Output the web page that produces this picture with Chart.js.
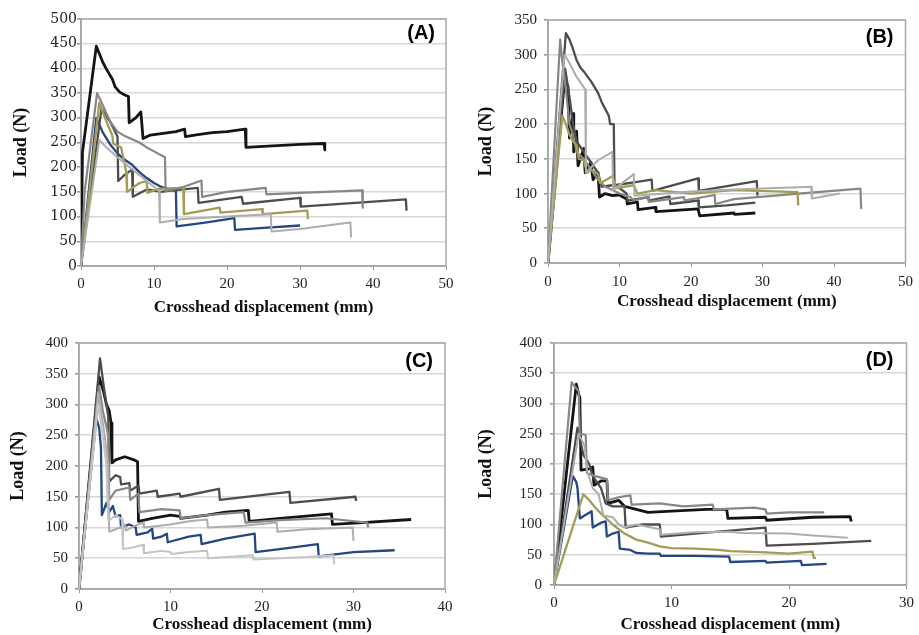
<!DOCTYPE html>
<html>
<head>
<meta charset="utf-8">
<script src="https://cdn.jsdelivr.net/npm/chart.js@4.4.1/dist/chart.umd.min.js"></script>
<style>
  body { margin: 0; background: #fff; }
  .panel { position: absolute; }
</style>
</head>
<body>
<div class="panel" style="left:0;top:0"><canvas id="chartA" width="460" height="320"></canvas></div>
<div class="panel" style="left:460px;top:0"><canvas id="chartB" width="459" height="320"></canvas></div>
<div class="panel" style="left:0;top:320px"><canvas id="chartC" width="460" height="315"></canvas></div>
<div class="panel" style="left:460px;top:320px"><canvas id="chartD" width="459" height="315"></canvas></div>
<script>
// [displacement mm, load N]

// panel A
const aBlack = [[0,0],[0.2,230],[2.1,445],[2.5,430],[3,412],[3.5,398],[4.3,378],[4.7,362],[5.3,352],[6,346],[6.5,343],[6.6,290],[7.5,300],[8.2,312],[8.5,258],[9.5,265],[11,268],[13,272],[14.2,277],[14.3,262],[16,266],[18,270],[20,272],[22.5,277],[22.6,240],[25,242],[30,246],[33.3,248],[33.4,235]];
const aMidGray = [[0,0],[0.5,150],[2.2,350],[3,325],[4,292],[5,272],[6,263],[8,250],[9,240],[10,232],[11.5,220],[11.6,152],[14,160],[16.5,173],[16.6,140],[20,150],[25.3,158],[25.4,145],[30,148],[38.5,153],[38.6,118]];
const aLightGray = [[0,0],[2.5,255],[3.5,240],[5,220],[7,196],[9,172],[10.7,152],[10.8,88],[14,95],[20,100],[26,105],[26.1,70],[30,75],[36.9,88],[37,58]];
const aDarkGray = [[0,0],[2.8,318],[4,292],[5,262],[5.1,172],[6,185],[7,195],[7.1,140],[9,155],[11,150],[12,152],[16,158],[16.1,128],[22,140],[22.2,126],[30,138],[30.1,120],[44.5,135],[44.6,112]];
const aOlive = [[0,0],[2.5,330],[3.5,292],[4.3,264],[4.4,248],[5.5,240],[6.2,190],[6.3,150],[8,168],[9,172],[9.1,148],[10.5,156],[14,158],[14.1,105],[19,118],[19.1,108],[24.8,115],[24.9,105],[31,112],[31.1,95]];
const aBlue = [[0,0],[2.1,300],[3,270],[4,246],[5,228],[6,215],[7,205],[8,190],[9,178],[10,168],[11,160],[13,152],[13.1,80],[17,88],[21,97],[21.1,73],[25,77],[30,82]];

// panel B
const bBlack = [[0,0],[2.3,262],[2.8,255],[3,180],[3.5,215],[3.6,160],[4,190],[4.2,140],[5,165],[5.2,130],[6,145],[6.3,120],[7,130],[7.2,95],[8,100],[9,97],[10,98],[11,92],[11.1,85],[12.5,88],[12.6,77],[15,80],[15.1,74],[21,78],[21.2,68],[26,72],[26.1,70],[29,72]];
const bDarkGray = [[0,0],[2.5,331],[3,322],[3.5,308],[4,292],[4.5,282],[5,276],[6,262],[7,245],[7.5,232],[8,222],[8.5,212],[8.7,200],[9.2,200],[9.3,112],[12,116],[14.5,120],[14.6,104],[21,122],[21.1,104],[29.2,118],[29.3,97]];
const bDarkGray2 = [[0,0],[2.4,280],[3,240],[3.5,200],[4,175],[5,160],[6,145],[7,130],[7.5,110],[9,112],[10,108],[11,100],[11.1,90],[14,95],[14.1,90],[17,96],[17.1,85],[21,90],[21.1,80],[25,83],[29,87]];
const bMidGray = [[0,0],[1.7,322],[2,290],[2.5,250],[3,200],[3.5,185],[4,160],[5,150],[6,135],[7,120],[8,110],[9,105],[10,100],[11.5,95],[12,90],[14,95],[14.1,88],[19,95],[19.1,90],[23.3,98],[23.4,85],[26,92],[35,100],[43.7,107],[43.8,78]];
const bLightGray = [[0,0],[2.3,300],[3,288],[4,268],[5.2,250],[5.3,130],[7,148],[9,160],[9.1,105],[12,128],[12.1,97],[20,103],[26,106],[36.8,110],[36.9,93],[40.8,100]];
const bOlive = [[0,0],[2,212],[2.5,200],[3,185],[3.5,175],[4,170],[4.3,150],[5,148],[5.5,130],[6,135],[7,128],[7.3,115],[9,125],[9.5,108],[12,112],[12.5,100],[15,105],[20,100],[26,105],[34.9,102],[35,83]];

// panel C
const cBlack = [[0,0],[2.2,345],[2.7,320],[3,300],[3.3,290],[3.5,270],[3.6,205],[4,210],[5,215],[6,210],[6.4,207],[6.5,110],[8,115],[10,120],[11,118],[11.1,115],[14,120],[16,125],[18.5,128],[18.6,110],[22,115],[27.6,122],[27.7,105],[31,108],[36.3,113]];
const cDarkGray = [[0,0],[2.3,375],[2.7,330],[3.2,280],[3.3,175],[4,185],[4.5,182],[4.6,170],[5.5,172],[5.6,160],[6.5,168],[6.6,155],[8.5,160],[8.6,150],[11,155],[11.1,150],[15.3,163],[15.4,145],[23,158],[23.1,140],[30.2,150],[30.3,143]];
const cMidGray = [[0,0],[2.2,330],[2.6,290],[3.2,250],[3.3,145],[4,160],[5.5,165],[5.6,145],[6.5,155],[6.6,125],[9,130],[11,128],[11.1,115],[14,120],[18,125],[18.2,108],[22,112],[27,115],[31.5,108],[31.6,100]];
const cLightGray = [[0,0],[2.1,320],[2.8,250],[3.2,200],[3.3,93],[4.5,100],[5,105],[5.1,95],[6,102],[7,108],[7.1,100],[10,105],[12,110],[14,113],[14.1,100],[18,103],[21.6,108],[21.7,93],[25,97],[29.9,100],[30,78]];
const cPaleGray = [[0,0],[2.1,300],[2.5,260],[3,200],[3.2,110],[4,120],[4.7,113],[4.8,65],[6,68],[7,72],[7.1,58],[9,62],[10,60],[10.1,57],[12,60],[14,62],[14.1,50],[19,55],[19.1,48],[25,52],[27.8,55],[27.9,40]];
const cBlue = [[0,0],[1.9,278],[2.2,262],[2.4,230],[2.5,120],[3,140],[3.3,125],[3.7,135],[4,118],[4.5,120],[4.6,100],[5.5,105],[6.2,100],[6.3,88],[7.5,92],[8,98],[8.1,82],[9,85],[9.6,90],[9.7,76],[12,85],[13.3,88],[13.4,73],[16,82],[19.2,90],[19.3,60],[23,67],[26.1,73],[26.2,53],[30,60],[34.5,63]];

// panel D
const dBlack = [[0,0],[1.9,332],[2.1,315],[2.2,310],[2.3,190],[3,192],[3.3,195],[3.4,165],[4,172],[4.5,172],[4.6,135],[5.5,140],[6,130],[7,125],[8,120],[10,122],[13,125],[14.7,125],[14.8,110],[18,112],[18.1,107],[22,112],[25.2,113],[25.3,105]];
const dMidGray = [[0,0],[1.5,335],[2.1,320],[2.2,250],[2.7,248],[2.8,185],[3.5,180],[4.5,175],[4.6,140],[5.5,145],[6.5,148],[6.6,133],[9,135],[11,130],[13.5,133],[13.6,125],[17,128],[18,125],[18.1,118],[20,120],[23,120]];
const dDarkGray = [[0,0],[2,260],[2.5,215],[3,200],[3.3,180],[4,160],[4.4,135],[5,130],[6,130],[6.1,95],[7.5,100],[9,100],[9.1,80],[12,85],[15,90],[18,95],[18.1,65],[22,68],[27,73]];
const dLightGray = [[0,0],[2.1,250],[2.6,230],[2.8,190],[3.3,160],[3.8,150],[4.2,115],[5,112],[5.5,100],[6,95],[7,100],[9,92],[9.1,83],[12,87],[15,88],[16,86],[20,85],[22,82],[25,78]];
const dOlive = [[0,0],[2.5,150],[3,140],[3.5,128],[4,118],[5,100],[6,85],[7,75],[8,70],[9,64],[10,61],[12,60],[14,58],[15,56],[18,54],[20,52],[22,55],[22.1,45],[22.3,45]];
const dBlue = [[0,0],[1.6,180],[1.9,170],[2,160],[2.2,110],[2.6,115],[3.2,122],[3.3,95],[4,103],[4.4,105],[4.5,80],[5,85],[5.5,88],[5.6,60],[6.5,58],[7,53],[8,52],[9,52],[9.1,48],[12,48],[14.9,47],[15,38],[18,40],[18.1,37],[21,40],[21.1,33],[23.2,35]];

const STYLE = {
  pale:  { color: '#c4c4c4', width: 2 },
  light: { color: '#adadad', width: 2 },
  mid:   { color: '#878787', width: 2.2 },
  dark:  { color: '#4d4d4d', width: 2.3 },
  olive: { color: '#a29c55', width: 2.3 },
  blue:  { color: '#244682', width: 2.3 },
  black: { color: '#141414', width: 2.8 }
};

const frame = {
  id: 'frame',
  beforeDatasetsDraw(chart) {
    const { ctx, chartArea: a } = chart;
    ctx.save();
    ctx.strokeStyle = '#a8a8a8';
    ctx.lineWidth = 1.5;
    ctx.strokeRect(a.left, a.top, a.right - a.left, a.bottom - a.top);
    ctx.restore();
  },
  afterDraw(chart, args, opts) {
    const { ctx, chartArea: a } = chart;
    ctx.save();
    ctx.font = 'bold 20px "Liberation Sans", Arial, sans-serif';
    ctx.fillStyle = '#000';
    ctx.textAlign = 'right';
    ctx.textBaseline = 'middle';
    ctx.fillText(opts.label, a.right - opts.dx, a.top + opts.dy);
    ctx.restore();
  }
};

function makePanel(id, p) {
  const canvas = document.getElementById(id);
  const W = canvas.width, H = canvas.height;
  new Chart(canvas, {
    type: 'line',
    data: {
      datasets: p.series.map(([pts, s]) => ({
        data: pts.map(([x, y]) => ({ x, y })),
        borderColor: STYLE[s].color,
        borderWidth: STYLE[s].width,
        borderJoinStyle: 'round',
        pointRadius: 0,
        tension: 0,
        fill: false
      }))
    },
    options: {
      responsive: false,
      animation: false,
      layout: { padding: { left: 0, bottom: 0, top: p.area[1], right: W - p.area[2] } },
      plugins: {
        legend: { display: false },
        tooltip: { enabled: false },
        frame: p.tag
      },
      scales: {
        x: {
          type: 'linear', min: 0, max: p.xMax,
          afterFit(s) { s.height = H - p.area[3]; },
          ticks: { stepSize: 10, color: '#222', padding: p.xPad,
                   font: { family: '"Liberation Serif", serif', size: 15 } },
          grid: { drawOnChartArea: false, tickLength: 4, tickColor: '#999' },
          border: { color: '#999', width: 1.5 },
          title: { display: true, text: 'Crosshead displacement (mm)', color: '#111',
                   padding: { top: 0, bottom: p.xTitle },
                   font: { family: '"Liberation Serif", serif', size: 17, weight: 'bold' } }
        },
        y: {
          min: 0, max: p.yMax,
          afterFit(s) { s.width = p.area[0]; },
          ticks: { stepSize: 50, color: '#222', padding: p.yPad,
                   font: p.yFont },
          grid: { color: '#d6d6d6', lineWidth: 1.6, tickLength: 4, tickColor: '#999' },
          border: { color: '#999', width: 1.5 },
          title: { display: true, text: 'Load (N)', color: '#111',
                   padding: { top: p.yTitle, bottom: 0 },
                   font: { family: '"Liberation Serif", serif', size: 18, weight: 'bold' } }
        }
      }
    },
    plugins: [frame]
  });
}

const serif15 = { family: '"Liberation Serif", serif', size: 15 };

makePanel('chartA', {
  area: [81, 19, 446, 266], xMax: 50, yMax: 500,
  xPad: 5, yPad: 0, xTitle: 2, yTitle: 11,
  yFont: { family: '"DejaVu Serif", serif', size: 14 },
  tag: { label: '(A)', dx: 11, dy: 14 },
  series: [[aLightGray, 'light'], [aMidGray, 'mid'], [aOlive, 'olive'], [aDarkGray, 'dark'], [aBlue, 'blue'], [aBlack, 'black']]
});

makePanel('chartB', {
  area: [88, 20, 452, 263], xMax: 50, yMax: 350,
  xPad: 6, yPad: 7, xTitle: 8, yTitle: 16,
  yFont: serif15,
  tag: { label: '(B)', dx: 12, dy: 17 },
  series: [[bLightGray, 'light'], [bOlive, 'olive'], [bMidGray, 'mid'], [bDarkGray2, 'dark'], [bDarkGray, 'dark'], [bBlack, 'black']]
});

makePanel('chartC', {
  area: [79, 23, 445, 269], xMax: 40, yMax: 400,
  xPad: 5, yPad: 7, xTitle: 0, yTitle: 8,
  yFont: serif15,
  tag: { label: '(C)', dx: 12, dy: 18 },
  series: [[cPaleGray, 'pale'], [cLightGray, 'light'], [cMidGray, 'mid'], [cDarkGray, 'dark'], [cBlue, 'blue'], [cBlack, 'black']]
});

makePanel('chartD', {
  area: [94, 23, 448, 265], xMax: 30, yMax: 400,
  xPad: 5, yPad: 8, xTitle: 0, yTitle: 16,
  yFont: serif15,
  tag: { label: '(D)', dx: 13, dy: 17 },
  series: [[dLightGray, 'light'], [dMidGray, 'mid'], [dOlive, 'olive'], [dDarkGray, 'dark'], [dBlue, 'blue'], [dBlack, 'black']]
});
</script>
</body>
</html>
